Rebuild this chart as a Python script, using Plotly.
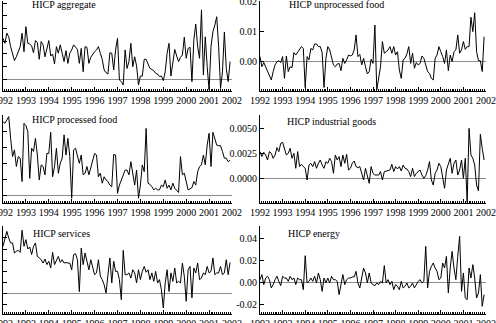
import numpy as np
import plotly.graph_objects as go

# Monthly observations, Jan 1992 .. Dec 2001
months = np.arange(120)
t = 1992 + months / 12.0
years = list(range(1992, 2003))
year_labels = [str(y) for y in years]

# values in units of 0.001
aggregate = [1.62,1.42,1.82,1.68,1.29,0.96,0.74,0.89,1.09,1.29,1.82,1.09,2.08,1.42,1.39,1.32,1.05,1.53,1.45,0.79,
             1.49,1.36,0.89,1.16,1.53,0.92,1.00,0.61,1.29,1.03,1.36,1.03,0.70,1.13,0.63,1.03,1.16,1.36,1.26,1.18,
             0.63,1.22,0.30,1.29,1.26,0.63,0.87,1.00,1.09,1.16,1.29,1.03,0.79,0.37,0.26,0.21,1.05,1.03,0.37,1.16,
             1.62,-0.03,-0.09,-0.22,1.16,0.43,0.70,1.42,0.50,0.89,0.53,-0.22,0.13,0.13,0.79,0.79,0.61,0.43,0.39,0.34,
             0.24,0.21,0.11,0.13,-0.05,0.30,1.03,1.42,0.13,0.70,1.18,0.92,0.70,0.87,0.96,1.66,0.83,1.22,1.26,-0.09,
             1.55,2.18,1.29,0.83,2.74,0.17,1.68,0.50,-0.42,1.29,1.88,2.14,2.47,1.29,-0.36,0.30,1.86,0.43,-0.09,0.70]

# values in units of 0.01
unprocessed_food = [0.17,-0.17,-0.03,-0.17,-0.30,-0.44,-0.61,-0.33,-0.11,0.00,0.03,-0.03,0.17,-0.56,0.19,-0.33,-0.17,-0.20,0.30,0.22,
                    0.33,0.39,0.50,0.44,-0.86,0.17,0.06,0.44,0.39,0.59,0.59,0.50,0.50,0.30,-0.86,0.11,0.50,0.39,0.17,-0.11,
                    -0.17,-0.08,-0.06,-0.30,0.11,-0.06,0.06,0.22,0.19,0.22,0.39,0.89,0.17,0.24,-0.11,0.11,-0.17,-0.41,-0.33,0.08,
                    -0.06,1.22,-0.94,-0.50,-0.17,0.67,0.28,0.33,0.39,0.50,0.28,0.50,0.22,0.33,-0.28,-0.56,0.06,0.11,0.26,0.50,
                    -0.06,0.28,-0.22,-0.03,-0.11,-0.06,0.19,0.11,-0.11,-0.33,-0.39,-0.56,-0.61,0.11,0.22,0.50,0.33,0.17,-0.06,0.39,
                    -0.30,0.22,0.00,0.33,0.39,0.89,0.28,0.39,0.67,0.41,0.50,0.50,1.48,1.00,1.63,0.33,0.03,0.03,-0.33,0.83]

# values in units of 0.001
processed_food = [2.31,2.26,2.36,2.47,1.79,1.22,1.43,0.91,1.22,1.17,0.44,2.26,2.19,2.00,0.54,1.48,1.38,1.79,1.27,0.49,
                  0.96,0.91,0.65,1.32,1.32,1.98,0.59,0.91,1.48,0.70,1.01,1.17,1.90,1.27,1.79,1.22,-0.08,1.43,1.48,1.27,
                  1.01,1.27,0.65,0.70,0.91,0.65,0.85,1.11,1.32,1.27,0.59,0.70,0.39,0.59,0.49,0.44,0.33,0.28,1.29,1.27,
                  0.07,0.33,0.49,0.65,0.80,0.80,0.65,1.06,0.65,0.33,0.80,-0.08,0.33,0.96,0.75,2.10,0.39,0.35,0.28,0.18,
                  0.23,0.18,0.18,0.33,0.28,0.49,0.23,0.33,0.18,0.39,0.23,0.15,0.10,1.22,0.65,0.70,0.44,0.18,0.21,0.25,
                  0.44,0.33,0.75,0.91,0.96,1.27,0.96,1.58,1.95,0.91,1.98,1.79,1.58,1.56,1.56,1.38,1.17,1.17,1.06,1.11]

# values in units of 0.001
industrial_goods = [2.67,2.17,2.60,2.33,1.83,2.67,2.50,2.00,2.33,3.07,2.67,3.50,3.60,2.83,2.33,2.50,3.00,2.00,2.50,1.00,
                    2.67,1.17,1.40,1.17,1.00,-0.17,1.33,1.50,1.17,1.67,1.00,1.50,1.83,1.33,1.00,1.67,1.50,2.00,1.67,0.50,
                    2.33,1.83,2.17,1.17,2.33,1.50,2.40,0.83,1.00,1.50,1.73,1.17,1.07,1.17,0.50,-0.17,1.00,0.17,-0.50,1.17,
                    0.50,0.33,0.33,0.33,0.67,-0.17,0.67,0.73,0.83,0.83,1.40,0.67,1.17,0.93,1.17,0.73,1.33,1.00,0.93,0.67,
                    0.17,1.00,0.17,0.50,0.67,0.83,0.33,0.00,0.27,0.83,1.67,-0.17,-0.67,0.50,0.83,1.50,1.17,0.00,-1.00,0.83,
                    1.50,2.00,0.50,1.50,1.83,0.33,0.83,1.83,0.00,2.00,-2.40,5.00,2.33,2.00,1.33,-0.67,-1.27,4.40,3.00,1.83]

# values in units of 0.001
services = [2.12,2.49,2.79,2.49,2.27,2.27,1.82,1.90,1.94,1.85,2.84,2.12,2.42,2.00,2.09,1.75,2.12,2.27,1.67,1.60,
            1.52,1.37,1.55,1.30,1.45,1.15,1.85,1.30,1.52,1.67,1.40,1.52,1.37,1.40,1.37,1.37,1.07,1.75,1.79,1.52,
            0.09,2.04,1.30,1.82,1.45,1.07,1.52,1.15,0.85,0.93,1.52,0.78,0.63,0.40,0.03,0.85,1.60,0.48,1.45,1.00,
            1.00,0.63,-0.27,1.94,0.85,0.85,0.93,0.70,1.07,0.93,0.48,1.07,0.63,1.00,1.22,0.96,1.07,0.63,0.93,0.55,
            1.00,0.48,0.63,0.18,-0.64,0.48,1.07,0.10,0.93,0.55,1.15,0.48,0.55,0.48,1.37,0.78,-0.34,1.07,1.22,-0.19,
            1.15,0.93,1.37,0.63,0.70,0.93,0.85,1.22,0.93,1.00,1.60,0.85,0.93,0.93,1.22,0.85,0.93,1.52,0.85,1.40]

# values in units of 0.01
energy = [0.27,0.73,-0.18,0.42,0.58,0.27,-0.48,-0.18,0.27,0.58,0.12,-0.27,0.58,0.42,0.42,0.12,0.58,0.27,0.42,-0.18,
          0.42,0.27,0.27,-0.64,2.45,-0.03,0.12,0.42,0.12,0.58,-0.03,0.88,0.27,-0.79,0.42,-0.03,0.42,-0.03,0.58,0.27,
          0.27,0.12,-1.09,-0.18,0.73,-0.18,0.27,0.42,0.42,0.52,0.52,1.03,-0.03,-0.48,0.42,1.33,0.88,-0.03,0.88,-0.03,
          -0.18,-0.27,-0.03,-0.18,0.12,-0.03,1.55,-0.03,0.27,-0.18,0.12,-0.64,-0.18,-0.33,-0.64,0.12,-0.48,-0.33,-0.03,-0.48,
          -0.33,-0.03,-0.48,-0.18,0.12,0.27,-0.03,0.12,3.30,-0.48,1.03,1.48,1.79,1.33,1.03,0.27,0.42,1.79,1.33,2.39,
          -0.94,1.33,2.85,1.33,0.27,2.39,4.21,-0.79,0.88,-1.39,-1.55,1.33,0.42,1.64,0.42,-1.39,-0.94,0.73,-2.15,-1.09]

W, H = 496, 323
FONT = "Liberation Serif"

def px_x(p):
    return p / W

def px_y(p):
    return 1 - p / H

left_dom = [px_x(3), px_x(232)]
right_dom = [px_x(260), px_x(486)]
row_dom = [[px_y(91), px_y(1)], [px_y(203), px_y(115)], [px_y(314), px_y(226)]]

milli = 1e-3
centi = 1e-2
panels = [
    dict(title="HICP aggregate", y=np.array(aggregate) * milli, col=0, row=0,
         yr=[-0.46e-3, 3.09e-3], tv=list(np.arange(0, 3.01, 0.5) * milli), tt=None,
         tpos=(30, 5)),
    dict(title="HICP unprocessed food", y=np.array(unprocessed_food) * centi, col=1, row=0,
         yr=[-0.00978, 0.0202], tv=[0, 0.01, 0.02], tt=["0.00", "0.01", "0.02"],
         tpos=(287, 5)),
    dict(title="HICP processed food", y=np.array(processed_food) * milli, col=0, row=1,
         yr=[-0.23e-3, 2.52e-3], tv=list(np.arange(0, 2.51, 0.5) * milli), tt=None,
         tpos=(30, 119)),
    dict(title="HICP industrial goods", y=np.array(industrial_goods) * milli, col=1, row=1,
         yr=[-2.47e-3, 6.33e-3], tv=[0, 0.0025, 0.005], tt=["0.0000", "0.0025", "0.0050"],
         tpos=(285, 121)),
    dict(title="HICP services", y=np.array(services) * milli, col=0, row=2,
         yr=[-0.91e-3, 3.03e-3], tv=list(np.arange(-0.5, 3.01, 0.5) * milli), tt=None,
         tpos=(31, 233)),
    dict(title="HICP energy", y=np.array(energy) * centi, col=1, row=2,
         yr=[-0.0285, 0.0515], tv=[-0.02, 0, 0.02, 0.04], tt=["-0.02", "0.00", "0.02", "0.04"],
         tpos=(286, 233)),
]

fig = go.Figure()
layout = dict(width=W, height=H, margin=dict(l=0, r=0, t=0, b=0, pad=0), autosize=False,
              paper_bgcolor="white", plot_bgcolor="white", showlegend=False,
              font=dict(family=FONT, size=10, color="black"))
annotations = []
for k, p in enumerate(panels, start=1):
    xa = "x" if k == 1 else f"x{k}"
    ya = "y" if k == 1 else f"y{k}"
    fig.add_trace(go.Scatter(x=t, y=p["y"], mode="lines", xaxis=xa, yaxis=ya,
                             line=dict(color="black", width=1), hoverinfo="skip"))
    xkey = "xaxis" if k == 1 else f"xaxis{k}"
    ykey = "yaxis" if k == 1 else f"yaxis{k}"
    layout[xkey] = dict(domain=left_dom if p["col"] == 0 else right_dom, anchor=ya,
                        range=[1992, 2002], tickmode="array", tickvals=years, ticktext=year_labels,
                        tickangle=0, ticklabeloverflow="allow", automargin=False,
                        ticks="inside", ticklen=4, tickwidth=1, tickcolor="black",
                        showline=True, linecolor="black", linewidth=1, showgrid=False, zeroline=False,
                        tickfont=dict(family=FONT, size=10, color="black"),
                        minor=dict(tickmode="linear", tick0=1992, dtick=1 / 12, ticks="inside",
                                   ticklen=2, tickwidth=1, tickcolor="black", showgrid=False))
    ydict = dict(domain=row_dom[p["row"]], anchor=xa, range=p["yr"],
                 tickmode="array", tickvals=p["tv"], ticklabeloverflow="allow", automargin=False,
                 ticks="inside", ticklen=4, tickwidth=1, tickcolor="black",
                 showline=True, linecolor="black", linewidth=1, showgrid=False,
                 zeroline=True, zerolinecolor="#8c8c8c", zerolinewidth=1,
                 tickfont=dict(family=FONT, size=10, color="black"))
    if p["tt"] is None:
        ydict["showticklabels"] = False
    else:
        ydict["ticktext"] = p["tt"]
    layout[ykey] = ydict
    annotations.append(dict(text=p["title"], xref="paper", yref="paper",
                            x=px_x(p["tpos"][0]), y=px_y(p["tpos"][1]),
                            xanchor="left", yanchor="middle", showarrow=False,
                            font=dict(family=FONT, size=10, color="black")))
layout["annotations"] = annotations
fig.update_layout(**layout)
fig.write_html("out.html",
               post_script="document.body.style.margin='0';document.body.style.overflow='hidden';")
